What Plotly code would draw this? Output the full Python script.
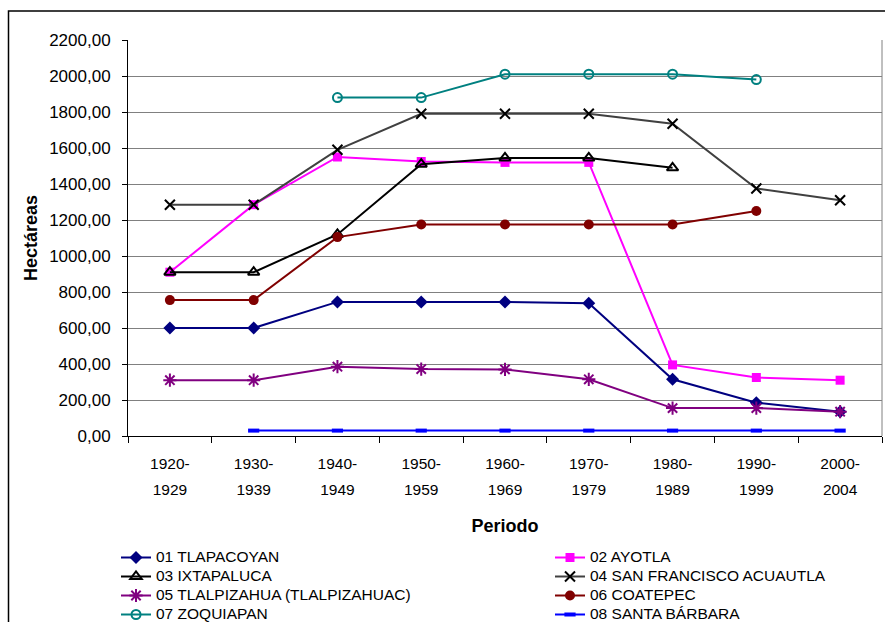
import plotly.graph_objects as go

# Periods (category axis) and their two-line tick labels
periods = ["1920-1929", "1930-1939", "1940-1949", "1950-1959", "1960-1969",
           "1970-1979", "1980-1989", "1990-1999", "2000-2004"]
period_start = ["1920-", "1930-", "1940-", "1950-", "1960-", "1970-", "1980-", "1990-", "2000-"]
period_end = ["1929", "1939", "1949", "1959", "1969", "1979", "1989", "1999", "2004"]

# Hectáreas by ejido and period
tlapacoyan = [600, 600, 745, 745, 745, 738, 315, 185, 135]
ayotla = [910, 1285, 1550, 1525, 1520, 1520, 395, 325, 310]
ixtapaluca = [910, 910, 1120, 1510, 1545, 1545, 1490, None, None]
san_francisco = [1285, 1285, 1590, 1790, 1790, 1790, 1735, 1375, 1310]
tlalpizahua = [310, 310, 385, 372, 370, 315, 155, 155, 135]
coatepec = [755, 755, 1105, 1175, 1175, 1175, 1175, 1250, None]
zoquiapan = [None, None, 1880, 1880, 2010, 2010, 2010, 1980, None]
santa_barbara = [None, 30, 30, 30, 30, 30, 30, 30, 30]

names = ["01 TLAPACOYAN", "02 AYOTLA", "03 IXTAPALUCA", "04 SAN FRANCISCO ACUAUTLA",
         "05 TLALPIZAHUA (TLALPIZAHUAC)", "06 COATEPEC", "07 ZOQUIAPAN", "08 SANTA BÁRBARA"]

FONT = "Liberation Sans, Arial, sans-serif"
W, H = 885, 622
ML, MR, MT, MB = 128, 3, 40, 186
PW, PH = W - ML - MR, H - MT - MB


def px_x(p):
    return (p - ML) / PW


def px_y(p):
    return (H - MB - p) / PH


series = [
    (tlapacoyan, dict(color="#000080", width=2), dict(symbol="diamond", size=10, color="#000080"), "legend"),
    (ayotla, dict(color="#FF00FF", width=2), dict(symbol="square", size=9, color="#FF00FF"), "legend2"),
    (ixtapaluca, dict(color="#000000", width=2),
     dict(symbol="triangle-up-open", size=10, color="#000000", line=dict(width=2)), "legend"),
    (san_francisco, dict(color="#404040", width=2),
     dict(symbol="x-thin-open", size=10, color="#000000", line=dict(width=2, color="#000000")), "legend2"),
    (tlalpizahua, dict(color="#800080", width=2),
     dict(symbol="asterisk-open", size=11, color="#800080", line=dict(width=2)), "legend"),
    (coatepec, dict(color="#800000", width=2), dict(symbol="circle", size=10, color="#800000"), "legend2"),
    (zoquiapan, dict(color="#008080", width=2),
     dict(symbol="circle-open", size=9, color="#008080", line=dict(width=2)), "legend"),
    (santa_barbara, dict(color="#0000FF", width=2),
     dict(symbol="line-ew-open", size=8, color="#0000FF", line=dict(width=4, color="#0000FF")), "legend2"),
]

fig = go.Figure()
for name, (vals, line, marker, lg) in zip(names, series):
    fig.add_trace(go.Scatter(
        x=periods, y=vals, mode="lines+markers", name=f"<span style='font-size:15.5px'>{name}</span>",
        line=line, marker=marker, legend=lg, connectgaps=False,
    ))

# carrier for the second line of the period labels
fig.add_trace(go.Scatter(x=periods, y=[None] * len(periods), xaxis="x2", mode="lines",
                         showlegend=False, hoverinfo="skip"))

fig.update_layout(
    width=W, height=H,
    margin=dict(l=ML, r=MR, t=MT, b=MB, autoexpand=False),
    paper_bgcolor="white", plot_bgcolor="white",
    font=dict(family=FONT, color="black"),
    separators=", ",
    showlegend=True,
    xaxis=dict(
        type="category", categoryorder="array", categoryarray=periods,
        range=[-0.5, len(periods) - 0.5],
        tickmode="array", tickvals=periods, ticktext=period_start,
        tickson="boundaries", ticks="outside", ticklen=6, tickcolor="black", tickwidth=1,
        showline=True, linecolor="black", linewidth=1, showgrid=False, zeroline=False,
        tickfont=dict(size=15.5), ticklabelstandoff=13,
    ),
    xaxis2=dict(
        type="category", categoryorder="array", categoryarray=periods,
        range=[-0.5, len(periods) - 0.5], overlaying="x", anchor="y", side="bottom",
        tickmode="array", tickvals=periods, ticktext=period_end,
        ticks="", showline=False, showgrid=False, zeroline=False,
        tickfont=dict(size=15.5), ticklabelstandoff=42,
        title=dict(text="<b>Periodo</b>", font=dict(size=18), standoff=22),
    ),
    yaxis=dict(
        range=[0, 2200], dtick=200, tick0=0, tickformat=".2f",
        ticks="outside", ticklen=5, tickcolor="black", tickwidth=1,
        showline=True, linecolor="black", linewidth=1,
        showgrid=True, gridcolor="#808080", gridwidth=1, zeroline=False,
        tickfont=dict(size=17), ticklabelstandoff=8,
        title=dict(text="<b>Hectáreas</b>", font=dict(size=18), standoff=6),
    ),
    legend=dict(orientation="v", x=px_x(116), y=px_y(543), xanchor="left", yanchor="top",
                font=dict(size=10.9, family=FONT), bgcolor="rgba(0,0,0,0)", tracegroupgap=0),
    legend2=dict(orientation="v", x=px_x(550), y=px_y(543), xanchor="left", yanchor="top",
                 font=dict(size=10.9, family=FONT), bgcolor="rgba(0,0,0,0)", tracegroupgap=0),
    shapes=[
        # chart frame
        dict(type="rect", xref="paper", yref="paper", x0=px_x(8.5), x1=px_x(W + 10),
             y0=px_y(H + 10), y1=px_y(11), line=dict(color="black", width=1.5), layer="below"),
        # plot-area border on the right
        dict(type="line", xref="paper", yref="paper", x0=1, x1=1, y0=0, y1=1,
             line=dict(color="#808080", width=1), layer="below"),
    ],
)

fig.write_html("out.html")
